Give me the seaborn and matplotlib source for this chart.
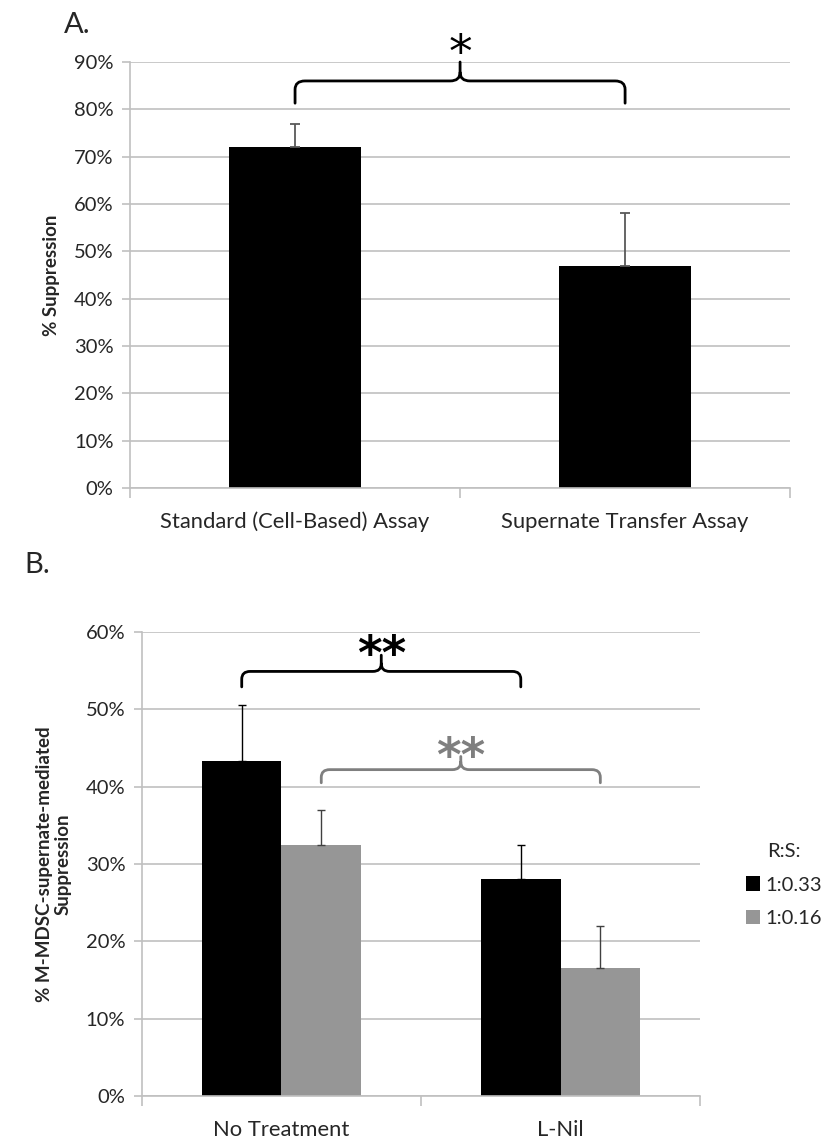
import numpy as np
import pandas as pd
import matplotlib
matplotlib.use("Agg")
import matplotlib.pyplot as plt
import seaborn as sns
from matplotlib.path import Path
from matplotlib.patches import PathPatch, Patch

# ---------------- data ----------------
assays = ["Standard (Cell-Based) Assay", "Supernate Transfer Assay"]
suppression_a = [72, 47]
err_a = [5, 11]

treatments = ["No Treatment", "L-Nil"]
ratios = ["1:0.33", "1:0.16"]
supp_b_033 = [43.3, 28.0]
supp_b_016 = [32.5, 16.5]
err_b_033 = [7.2, 4.5]
err_b_016 = [4.5, 5.5]

a_ticks = [0, 10, 20, 30, 40, 50, 60, 70, 80, 90]
b_ticks = [0, 10, 20, 30, 40, 50, 60]

# ---------------- style ----------------
sns.set_theme(style="white")
plt.rcParams["font.family"] = ["Lato", "DejaVu Sans"]

BLACK = "#000000"
GRAY = "#969696"
GRID = "#c0c0c0"
FS = 14.5
FSX = 15.8

fig = plt.figure(figsize=(8.22, 11.42), dpi=100)
axA = fig.add_axes([0.1582, 0.5727, 0.8030, 0.3730])
axB = fig.add_axes([0.1727, 0.0403, 0.6790, 0.4063])


def style_axis(ax, ticks, ncat):
    ax.set_ylim(ticks[0], ticks[-1])
    ax.set_yticks(ticks)
    ax.set_yticklabels([f"{t}%" for t in ticks], fontsize=FS)
    ax.set_xlim(-0.5, ncat - 0.5)
    ax.grid(axis="y", color=GRID, lw=1.2)
    ax.set_axisbelow(True)
    for s in ["top", "right"]:
        ax.spines[s].set_visible(False)
    for s in ["left", "bottom"]:
        ax.spines[s].set_color(GRID)
        ax.spines[s].set_linewidth(1.2)
    ax.tick_params(axis="y", which="major", length=6, width=1.2, color=GRID,
                   direction="out", pad=6, left=True)
    ax.tick_params(axis="x", which="major", length=0, pad=17, labelsize=FSX)
    ax.set_xticks(np.arange(-0.5, ncat, 1.0), minor=True)
    ax.tick_params(axis="x", which="minor", length=7, width=1.2, color=GRID,
                   direction="out", bottom=True)
    ax.set_xlabel("")


def brace(ax, x0, x1, ybot, yh, ypeak, rx, ry, color, lw):
    xm = (x0 + x1) / 2
    verts = [
        (x0, ybot), (x0, yh - ry), (x0, yh), (x0 + rx, yh),
        (xm - rx, yh), (xm, yh), (xm, yh + ry), (xm, ypeak),
        (xm, yh + ry), (xm, yh), (xm + rx, yh),
        (x1 - rx, yh), (x1, yh), (x1, yh - ry), (x1, ybot),
    ]
    codes = [
        Path.MOVETO, Path.LINETO, Path.CURVE3, Path.CURVE3,
        Path.LINETO, Path.CURVE3, Path.CURVE3, Path.LINETO,
        Path.MOVETO, Path.CURVE3, Path.CURVE3,
        Path.LINETO, Path.CURVE3, Path.CURVE3, Path.LINETO,
    ]
    ax.add_patch(PathPatch(Path(verts, codes), fill=False, edgecolor=color,
                           lw=lw, clip_on=False, capstyle="round",
                           joinstyle="round"))


# ---------------- panel A ----------------
dfA = pd.DataFrame({"assay": assays, "supp": suppression_a})
sns.barplot(data=dfA, x="assay", y="supp", order=assays, color=BLACK,
            width=0.4, errorbar=None, linewidth=0, saturation=1, ax=axA)
style_axis(axA, a_ticks, len(assays))
xa = [p.get_x() + p.get_width() / 2 for p in axA.patches]
axA.errorbar(xa, suppression_a, yerr=[[0] * len(err_a), err_a], fmt="none",
             ecolor="#595959", elinewidth=1.3, capsize=3.5, capthick=1.3,
             zorder=5)
axA.set_ylabel("% Suppression", fontsize=13.5, fontweight="bold", labelpad=10)
brace(axA, xa[0], xa[1], 81.3, 86.0, 90.0, 0.03, 1.8, BLACK, 2.0)
axA.text((xa[0] + xa[1]) / 2, 91.6, "*", ha="center", va="center",
         fontsize=34, color=BLACK, family="DejaVu Sans", clip_on=False)
fig.text(0.078, 0.978, "A.", fontsize=21, ha="left", va="center")

# ---------------- panel B ----------------
dfB = pd.DataFrame({
    "treatment": treatments * 2,
    "ratio": [ratios[0]] * 2 + [ratios[1]] * 2,
    "supp": supp_b_033 + supp_b_016,
})
sns.barplot(data=dfB, x="treatment", y="supp", hue="ratio", order=treatments,
            hue_order=ratios, palette=[BLACK, GRAY], width=0.57,
            errorbar=None, linewidth=0, saturation=1, ax=axB, legend=False)
style_axis(axB, b_ticks, len(treatments))
cont_033, cont_016 = axB.containers[0], axB.containers[1]
xb1 = [p.get_x() + p.get_width() / 2 for p in cont_033]
xb2 = [p.get_x() + p.get_width() / 2 for p in cont_016]
axB.errorbar(xb1, supp_b_033, yerr=[[0, 0], err_b_033], fmt="none",
             ecolor=BLACK, elinewidth=1.0, capsize=3, capthick=1.0, zorder=5)
axB.errorbar(xb2, supp_b_016, yerr=[[0, 0], err_b_016], fmt="none",
             ecolor="#404040", elinewidth=1.0, capsize=3, capthick=1.0,
             zorder=5)
axB.set_ylabel("% M-MDSC-supernate-mediated\nSuppression", fontsize=13.5,
               fontweight="bold", labelpad=10, linespacing=1.1)
brace(axB, xb1[0], xb1[1], 52.9, 54.9, 57.0, 0.03, 1.0, BLACK, 2.0)
axB.text((xb1[0] + xb1[1]) / 2, 56.8, "**", ha="center", va="center",
         fontsize=34, fontweight="bold", color=BLACK, family="DejaVu Sans",
         clip_on=False)
GB = "#7f7f7f"
brace(axB, xb2[0], xb2[1], 40.5, 42.2, 43.9, 0.03, 1.0, GB, 2.0)
axB.text((xb2[0] + xb2[1]) / 2, 43.7, "**", ha="center", va="center",
         fontsize=34, fontweight="bold", color=GB, family="DejaVu Sans",
         clip_on=False)
fig.text(0.030, 0.505, "B.", fontsize=21, ha="left", va="center")

handles = [Patch(facecolor=BLACK, edgecolor="none"),
           Patch(facecolor=GRAY, edgecolor="none")]
fig.legend(handles, ratios, title="R:S:", loc="center left",
           bbox_to_anchor=(0.885, 0.225), frameon=False, fontsize=FS,
           title_fontsize=FS, handlelength=0.7, handleheight=0.7,
           handletextpad=0.3, labelspacing=0.8)

fig.savefig("out.png", dpi=100)
